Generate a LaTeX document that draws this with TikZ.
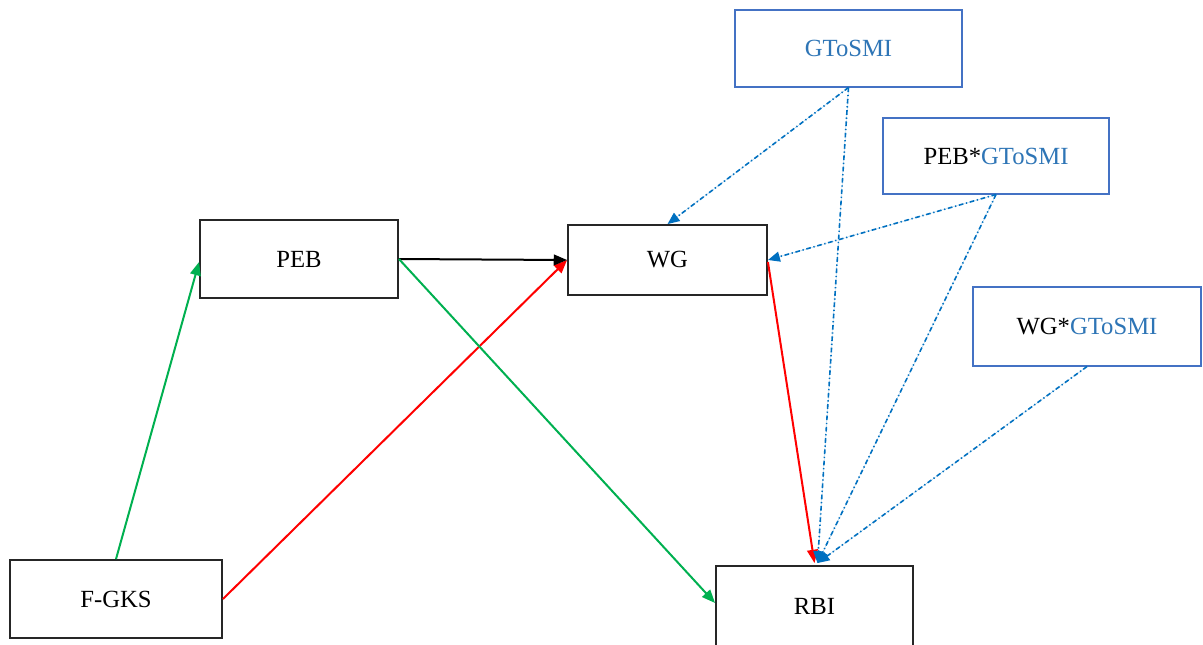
\documentclass[tikz,border=0pt]{standalone}
\usepackage{fontspec}
\setmainfont{Liberation Serif}
\usetikzlibrary{arrows.meta,calc}
\definecolor{linkblue}{RGB}{0,112,192}
\definecolor{textblue}{RGB}{46,117,182}
\definecolor{frameblue}{RGB}{68,114,196}
\definecolor{pathgreen}{RGB}{0,176,80}
\tikzset{
  box/.style={draw=black!85, line width=1.4pt, fill=white, inner sep=0pt,
    font=\fontsize{18.5}{22}\selectfont},
  modbox/.style={draw=frameblue, line width=0.8pt, fill=white, inner sep=0pt,
    font=\fontsize{18.5}{22}\selectfont},
  tip/.style={-{Triangle[length=10pt,width=8pt]}},
  pathline/.style={tip, line width=1.5pt},
  modline/.style={draw=linkblue, line width=1.2pt,
    dash pattern=on 3.5pt off 2pt on 1pt off 2pt,
    -{Triangle[length=9pt,width=7.5pt]}},
}
\begin{document}
\begin{tikzpicture}[x=0.75pt,y=-0.75pt]
\useasboundingbox (0,0) rectangle (1203,644);

% main constructs
\node[box, minimum width=159pt, minimum height=58.5pt] (fgks) at (116,599) {F-GKS};
\node[box, minimum width=148.5pt, minimum height=58.5pt] (peb) at (299,259) {PEB};
\node[box, minimum width=149.25pt, minimum height=52.5pt] (wg) at (667.5,260) {WG};
\node[box, minimum width=147.75pt, minimum height=60pt] (rbi) at (814.5,606) {RBI};

% moderator and interaction terms
\node[modbox, minimum width=170.25pt, minimum height=57.75pt] (gt) at (848.5,48.5) {\textcolor{textblue}{GToSMI}};
\node[modbox, minimum width=169.5pt, minimum height=57pt] (pebg) at (996,156) {PEB*\textcolor{textblue}{GToSMI}};
\node[modbox, minimum width=171pt, minimum height=59.25pt] (wgg) at (1087,326.5) {WG*\textcolor{textblue}{GToSMI}};

\coordinate (rbitop) at ($(rbi.north)+(3,-2)$);

% direct paths
\draw[pathline, draw=pathgreen, pathgreen] (fgks.north) -- ($(peb.west)+(0,3)$);
\draw[pathline, draw=red, red] (fgks.east) -- (wg.west);
\draw[pathline, black] (peb.east) -- (wg.west);
\draw[pathline, draw=pathgreen, pathgreen] (peb.east) -- ($(rbi.west)+(0,-3)$);
\draw[pathline, draw=red, red] ($(wg.east)+(0,2)$) -- ($(rbi.north)+(0,-2)$);

% moderating paths
\draw[modline, fill=linkblue] (gt.south) -- (wg.north);
\draw[modline, fill=linkblue] (gt.south) -- (rbitop);
\draw[modline, fill=linkblue] (pebg.south) -- (wg.east);
\draw[modline, fill=linkblue] (pebg.south) -- (rbitop);
\draw[modline, fill=linkblue] (wgg.south) -- (rbitop);
\end{tikzpicture}
\end{document}
